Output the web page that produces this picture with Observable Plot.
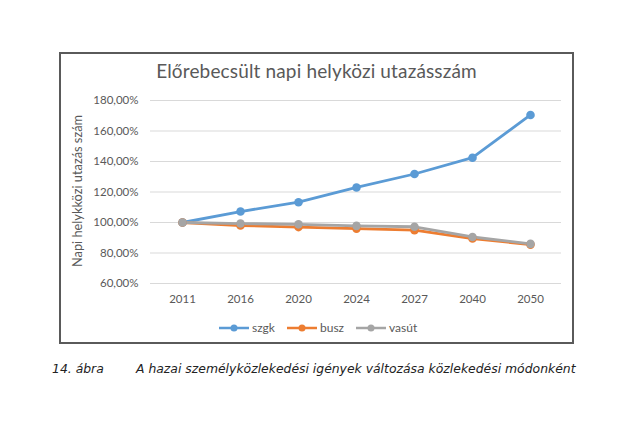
<!DOCTYPE html>
<html>
<head>
<meta charset="utf-8">
<script src="https://cdn.jsdelivr.net/npm/d3@7"></script>
<script src="https://cdn.jsdelivr.net/npm/@observablehq/plot@0.6"></script>
<style>
  html, body { margin: 0; padding: 0; background: #fff; }
  body { width: 640px; height: 426px; position: relative; overflow: hidden; font-family: Lato, "Open Sans", sans-serif; }
  #box { position: absolute; left: 59px; top: 52px; width: 511px; height: 288px; border: 2px solid #5a5a5a; }
  #title { position: absolute; left: 59px; width: 515px; top: 59px; text-align: center; font-size: 19px; color: #595959; letter-spacing: 0.15px; }
  #chart { position: absolute; left: 62px; top: 90px; }
  #ylab { position: absolute; left: 77px; top: 191px; transform: translate(-50%, -50%) rotate(-90deg); white-space: nowrap; font-size: 12.8px; color: #595959; }
  #legend { position: absolute; top: 320px; left: 219px; font-size: 12px; color: #595959; display: flex; align-items: center; }
  #legend .item { display: flex; align-items: center; margin-right: 12px; }
  #legend svg { margin-right: 3px; }
  #caption { position: absolute; top: 361px; left: 52px; font-family: "DejaVu Sans", sans-serif; font-style: italic; font-size: 12.4px; color: #222; white-space: nowrap; }
  #caption .num { display: inline-block; width: 84px; }
</style>
</head>
<body>
<div id="box"></div>
<div id="title">Előrebecsült napi helyközi utazásszám</div>
<div id="ylab">Napi helykközi utazás szám</div>
<div id="chart"></div>
<div id="legend"></div>
<div id="caption"><span class="num">14. ábra</span>A hazai személyközlekedési igények változása közlekedési módonként</div>
<script>
const years = ["2011", "2016", "2020", "2024", "2027", "2040", "2050"];
const seriesNames = ["szgk", "busz", "vasút"];
const szgk = [100, 107.2, 113.3, 123, 131.8, 142.5, 170.5];
const busz = [100, 98, 97, 96, 95, 89.5, 85.5];
const vasut = [100, 99.3, 98.8, 97.8, 97.2, 90.5, 86];
const colors = ["#5b9bd5", "#ed7d31", "#a5a5a5"];
const yTicks = [60, 80, 100, 120, 140, 160, 180];

const allSeries = [szgk, busz, vasut];
const data = [];
seriesNames.forEach((name, si) => {
  years.forEach((yr, i) => data.push({ series: name, year: yr, value: allSeries[si][i] }));
});

const fmt = d => d.toFixed(2).replace(".", ",") + "%";

const chart = Plot.plot({
  width: 509,
  height: 225,
  marginLeft: 88,
  marginRight: 10,
  marginTop: 10,
  marginBottom: 32,
  style: { fontFamily: "Lato, 'Open Sans', sans-serif", fontSize: "11.5px", color: "#595959", background: "transparent" },
  x: { type: "point", domain: years, padding: 0.5, label: null, tickSize: 0, tickPadding: 11 },
  y: { domain: [60, 180], ticks: yTicks, tickFormat: fmt, label: null, tickSize: 0, tickPadding: 12 },
  color: { domain: seriesNames, range: colors },
  marks: [
    Plot.gridY(yTicks, { stroke: "#d9d9d9", strokeOpacity: 1, strokeWidth: 1 }),
    Plot.axisY({ ticks: yTicks, tickFormat: fmt, tickSize: 0, tickPadding: 12, label: null }),
    Plot.axisX({ tickSize: 0, tickPadding: 11, label: null }),
    Plot.line(data, { x: "year", y: "value", z: "series", stroke: "series", strokeWidth: 2.8, strokeLinejoin: "round", strokeLinecap: "round" }),
    Plot.dot(data, { x: "year", y: "value", fill: "series", r: 4.3 })
  ]
});
document.getElementById("chart").appendChild(chart);

const legend = document.getElementById("legend");
seriesNames.forEach((name, i) => {
  const item = document.createElement("div");
  item.className = "item";
  item.innerHTML = `<svg width="30" height="10"><line x1="0" y1="5" x2="30" y2="5" stroke="${colors[i]}" stroke-width="2.5"/><circle cx="15" cy="5" r="3.5" fill="${colors[i]}"/></svg><span>${name}</span>`;
  legend.appendChild(item);
});
</script>
</body>
</html>
